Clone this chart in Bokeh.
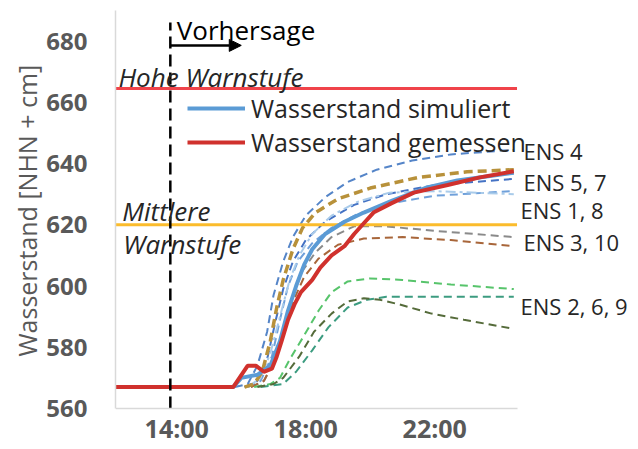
from bokeh.plotting import figure
from bokeh.models import Range1d, Legend, LegendItem, Arrow, NormalHead, FixedTicker, Title
from bokeh.core.properties import value
from bokeh.embed import file_html
from bokeh.resources import INLINE

# ---------------- data ----------------
x_ticks = [14, 18, 22]
x_tick_labels = ["14:00", "18:00", "22:00"]
y_ticks = [560, 580, 600, 620, 640, 660, 680]

t_start = 12.1
t_end = 24.55
y_min = 560
y_max = 690
hohe_warnstufe = 664.5
mittlere_warnstufe = 620
forecast_start = 13.8
forecast_arrow_end = 16.0

measured_t = [12.1, 15.75, 16.2, 16.45, 16.7, 16.95, 17.1, 17.25, 17.45, 17.65, 17.85, 18.2, 18.45,
              18.8, 19.2, 19.5, 19.8, 20.1, 20.65, 21.35, 22.4, 23.4, 24.45]
measured_v = [567, 567, 574, 574, 572, 573, 577, 582, 589, 594, 598, 602, 606,
              610, 613, 617, 620.5, 624, 627, 630.5, 633, 635.5, 637.5]

sim_t = [12.1, 15.75, 16.0, 16.5, 16.9, 17.2, 17.45, 17.7, 17.95, 18.2, 18.6, 19.2, 19.8, 20.7, 21.7, 22.7, 24.45]
sim_v = [567, 567, 570, 571, 574, 582, 592, 600, 607, 612, 617, 621, 624, 628, 632, 634.5, 637]

ens4_t = [15.8, 16.2, 16.5, 16.8, 17.0, 17.3, 17.6, 18.0, 18.6, 19.3, 20.2, 21.3, 22.5, 24.45]
ens4_v = [567, 568, 574, 585, 597, 608, 616, 623, 629, 634, 638, 641, 643, 644.5]

ens5_t = [16.1, 16.4, 16.65, 16.9, 17.1, 17.3, 17.6, 17.9, 18.3, 19.0, 20.0, 21.5, 23.0, 24.45]
ens5_v = [567, 568, 572, 582, 593, 602, 612, 619, 624, 628.5, 632, 635.5, 637.3, 638]

ens7_t = [16.1, 16.5, 16.8, 17.05, 17.3, 17.6, 18.0, 18.6, 19.5, 20.5, 22.0, 24.45]
ens7_v = [567, 569, 576, 588, 599, 608, 615, 621, 626.5, 630, 633, 635]

ens1_t = [16.2, 16.6, 16.9, 17.2, 17.5, 17.8, 18.2, 18.8, 19.6, 20.6, 22.0, 24.45]
ens1_v = [567, 570, 578, 590, 602, 610, 617, 623, 627.5, 630.5, 631, 630]

ens8_t = [16.2, 16.6, 16.95, 17.2, 17.45, 17.75, 18.2, 18.8, 19.6, 20.6, 22.0, 24.45]
ens8_v = [567, 569, 577, 589, 600, 608, 614, 619, 623.5, 627, 629.5, 631]

ens3_t = [16.3, 16.7, 17.0, 17.3, 17.6, 17.9, 18.3, 18.8, 19.5, 20.5, 22.0, 24.45]
ens3_v = [567, 569, 575, 586, 597, 605, 611, 616, 619.5, 619.5, 618, 616]

ens10_t = [16.3, 16.7, 17.05, 17.35, 17.65, 17.95, 18.4, 19.0, 19.8, 21.0, 22.5, 24.45]
ens10_v = [567, 569, 576, 587, 596, 603, 609, 613.5, 615.5, 616, 615, 613]

ens2_t = [16.4, 16.9, 17.2, 17.5, 17.9, 18.4, 18.8, 19.3, 20.0, 21.0, 22.5, 24.45]
ens2_v = [567, 568, 570, 576, 583, 592, 598, 601.5, 602.5, 602, 600.5, 599]

ens6_t = [16.6, 17.3, 17.7, 18.2, 18.7, 19.3, 19.9, 20.5, 22.0, 24.45]
ens6_v = [567, 568, 572, 579, 586.5, 593, 595.5, 596.5, 596.5, 596.5]

ens9_t = [16.5, 17.0, 17.3, 17.8, 18.25, 18.8, 19.3, 19.8, 20.3, 20.9, 21.9, 22.9, 24.45]
ens9_v = [567, 568, 570, 577, 585, 591, 595, 596, 595.5, 594, 591, 589, 586]

ens_labels = ["ENS 4", "ENS 5, 7", "ENS 1, 8", "ENS 3, 10", "ENS 2, 6, 9"]
ens_label_x = [24.75, 24.75, 24.66, 24.75, 24.66]
ens_label_y = [644.1, 634.0, 624.7, 614.4, 593.5]

# ---------------- figure ----------------
FONT = "Open Sans"
GRAY = "#595959"
DARK = "#262626"

W, H = 638, 449
LEFT, TOP = 115, 10
AXIS_BOTTOM_PX = 408
PX_PER_HOUR = 32.25
frame_h = H - TOP
px_per_unit = (AXIS_BOTTOM_PX - TOP) / (y_max - y_min)
y_start = y_max - frame_h / px_per_unit
x_end = t_start + (W - LEFT) / PX_PER_HOUR

p = figure(width=W, height=H, output_backend="svg", toolbar_location=None,
           x_range=Range1d(t_start, x_end), y_range=Range1d(y_start, y_max),
           min_border_left=LEFT, min_border_right=0, min_border_top=TOP, min_border_bottom=0)
p.outline_line_color = None
p.xgrid.grid_line_color = None
p.ygrid.grid_line_color = None
p.background_fill_color = "white"

p.xaxis.ticker = FixedTicker(ticks=x_ticks)
p.xaxis.major_label_overrides = {t: l for t, l in zip(x_ticks, x_tick_labels)}
p.xaxis.fixed_location = y_min
p.xaxis.bounds = (t_start, t_end)
p.yaxis.ticker = FixedTicker(ticks=y_ticks)
p.yaxis.bounds = (y_min, y_max)
for ax in (p.xaxis, p.yaxis):
    ax.axis_line_color = "#D9D9D9"
    ax.axis_line_width = 1.5
    ax.major_tick_line_color = None
    ax.minor_tick_line_color = None
    ax.major_tick_out = 0
    ax.major_tick_in = 0
    ax.major_label_text_font = FONT
    ax.major_label_text_font_style = "bold"
    ax.major_label_text_color = GRAY
p.yaxis.major_label_text_font_size = "24px"
p.xaxis.major_label_text_font_size = "25px"
p.yaxis.major_label_standoff = 28
p.xaxis.major_label_standoff = 2

ytitle = Title(text="Wasserstand [NHN + cm]", align="left", offset=93, standoff=0,
               text_font=FONT, text_font_size="25px", text_font_style="normal", text_color=GRAY)
p.add_layout(ytitle, "left")

# ensemble members (dashed)
ens = [
    (ens4_t, ens4_v, "#5585C8", 2, "8 5"),
    (ens7_t, ens7_v, "#4472C4", 2, "8 5"),
    (ens8_t, ens8_v, "#6FA0DA", 2, "8 5"),
    (ens1_t, ens1_v, "#A9CBEA", 2, "10 4 3 4"),
    (ens3_t, ens3_v, "#8A8A8A", 2, "8 5"),
    (ens10_t, ens10_v, "#A8663A", 2, "8 5"),
    (ens2_t, ens2_v, "#57C46B", 2, "8 5"),
    (ens6_t, ens6_v, "#3C9C80", 2, "8 5"),
    (ens9_t, ens9_v, "#556B3A", 2, "8 5"),
    (ens5_t, ens5_v, "#B8913A", 3.5, "9 5"),
]
for t, v, c, w, d in ens:
    p.line(t, v, line_color=c, line_width=w, line_dash=d)

# warning levels
p.segment(x0=[t_start], y0=[hohe_warnstufe], x1=[t_end], y1=[hohe_warnstufe],
          line_color="#F0434A", line_width=3)
p.segment(x0=[t_start], y0=[mittlere_warnstufe], x1=[t_end], y1=[mittlere_warnstufe],
          line_color="#FBBC2C", line_width=3)

r_sim = p.line(sim_t, sim_v, line_color="#5B9BD5", line_width=4)
r_meas = p.line(measured_t, measured_v, line_color="#D0312D", line_width=4)

# forecast marker
p.segment(x0=[forecast_start], y0=[y_min], x1=[forecast_start], y1=[686.1],
          line_color="black", line_width=2.5, line_dash="12 6")
p.add_layout(Arrow(end=NormalHead(size=12, fill_color="black", line_color="black"),
                   x_start=forecast_start, y_start=678.6, x_end=forecast_arrow_end, y_end=678.6,
                   line_color="black", line_width=2.5))
p.text(x=[14.0], y=[683.6], text=["Vorhersage"], text_font=value(FONT), text_font_size="26px",
       text_color="black", text_baseline="middle")
p.text(x=[12.19], y=[668.3], text=["Hohe Warnstufe"], text_font=value(FONT), text_font_size="26px",
       text_font_style="italic", text_color=DARK, text_baseline="middle")
p.text(x=[12.31, 12.34], y=[624.5, 613.7], text=["Mittlere", "Warnstufe"], text_font=value(FONT),
       text_font_size="26px", text_font_style="italic", text_color=DARK, text_baseline="middle")
p.text(x=ens_label_x, y=ens_label_y, text=ens_labels, text_font=value(FONT), text_font_size="22px",
       text_color=DARK, text_baseline="middle")

legend = Legend(items=[LegendItem(label="Wasserstand simuliert", renderers=[r_sim]),
                       LegendItem(label="Wasserstand gemessen", renderers=[r_meas])],
                location=(72, 290), orientation="vertical",
                glyph_width=58, glyph_height=20, label_standoff=6, spacing=-1, padding=0, margin=0,
                label_text_font=FONT, label_text_font_size="25px", label_text_color=DARK,
                background_fill_alpha=0, border_line_alpha=0)
p.add_layout(legend)

open("out.html", "w").write(file_html(p, INLINE))
